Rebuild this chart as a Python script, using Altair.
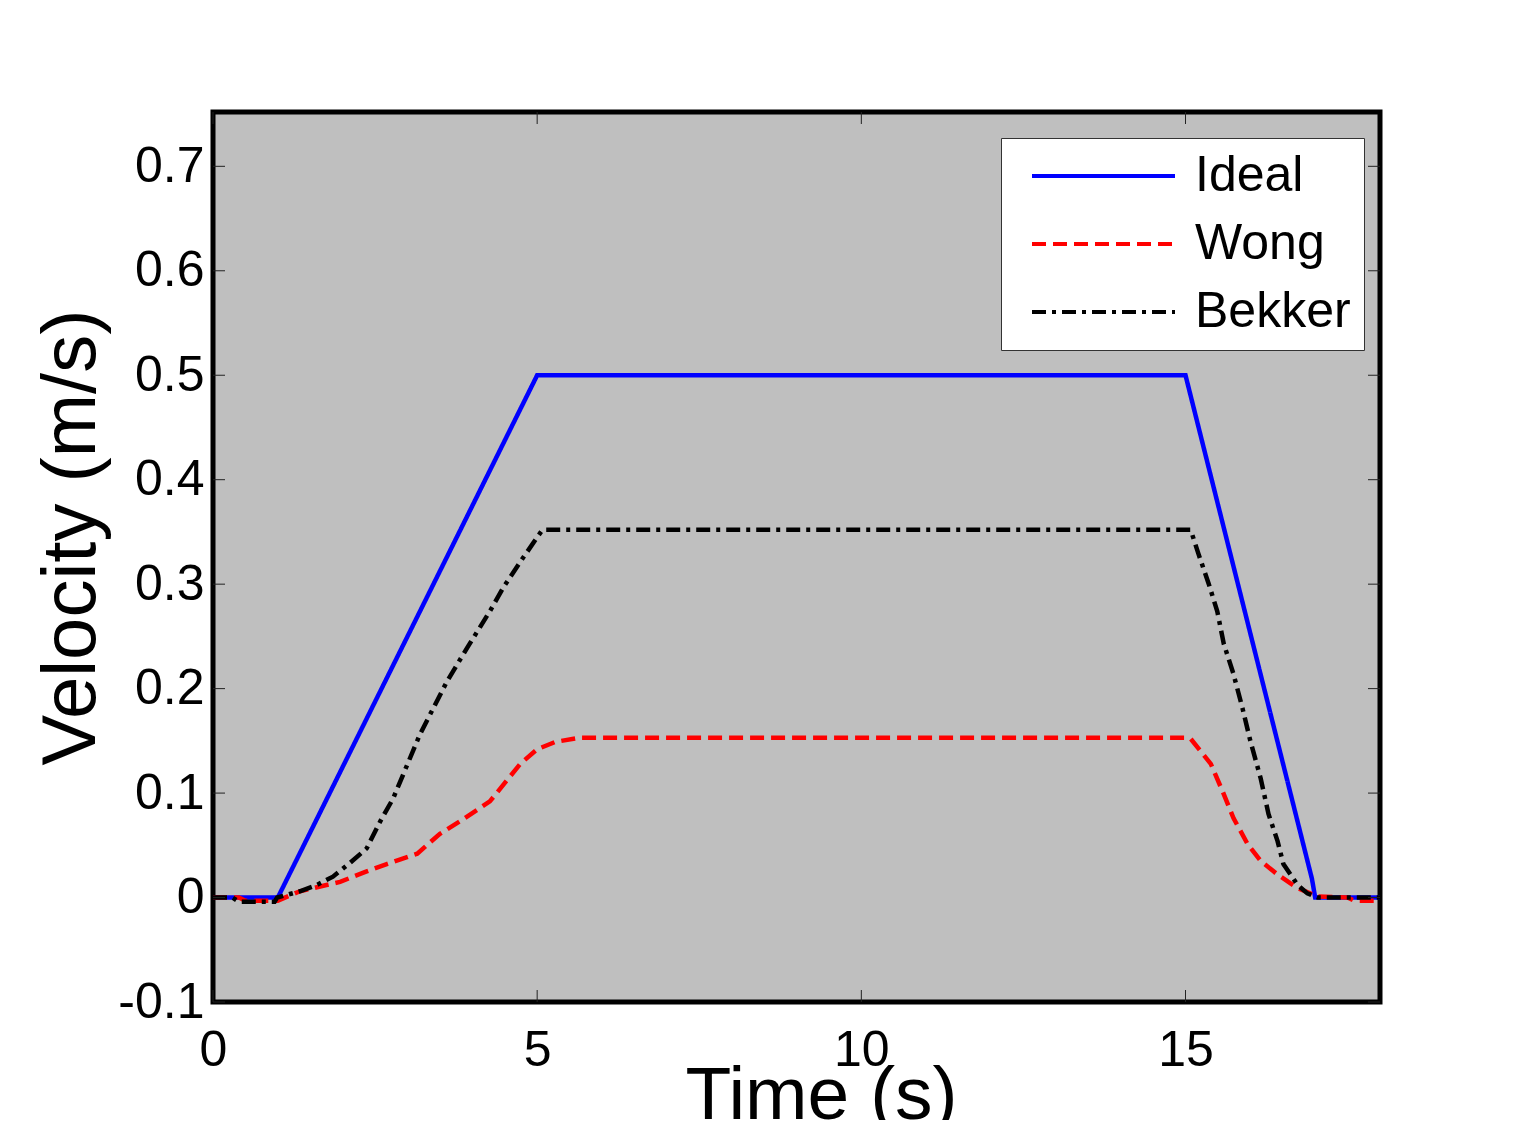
import altair as alt
import pandas as pd

# ---------------- data ----------------
series_names = ["Ideal", "Wong", "Bekker"]
series_colors = ["#0000ff", "#ff0000", "#000000"]

ideal_t = [0.0, 1.0, 5.0, 15.0, 16.95, 17.0, 18.0]
ideal_v = [0.0, 0.0, 0.5, 0.5, 0.018, 0.0, 0.0]

wong_t = [0.0, 0.4, 0.5, 1.0, 1.34, 1.96, 2.37, 2.68, 3.15, 3.5, 3.81, 4.27,
          4.74, 5.0, 5.28, 5.66, 15.0, 15.08, 15.39, 15.57, 15.74, 15.96,
          16.16, 16.42, 16.73, 17.04, 17.5, 17.6, 18.0]
wong_v = [0.0, 0.0, -0.003, -0.003, 0.006, 0.015, 0.025, 0.032, 0.042, 0.061,
          0.073, 0.092, 0.128, 0.142, 0.149, 0.153, 0.153, 0.152, 0.128, 0.102,
          0.076, 0.051, 0.035, 0.022, 0.009, 0.001, 0.0, -0.003, -0.003]

bekker_t = [0.0, 0.3, 0.4, 0.95, 0.99, 1.34, 1.6, 1.85, 2.11, 2.37, 2.58, 2.78,
            3.19, 3.61, 3.92, 4.27, 4.48, 4.78, 5.08, 15.08, 15.2, 15.36,
            15.49, 15.59, 15.74, 15.88, 16.0, 16.16, 16.28, 16.42, 16.51,
            16.73, 16.88, 17.04, 18.0]
bekker_v = [0.0, 0.0, -0.004, -0.004, 0.0, 0.006, 0.012, 0.02, 0.033, 0.047,
            0.073, 0.095, 0.156, 0.207, 0.239, 0.274, 0.297, 0.325, 0.352,
            0.352, 0.329, 0.3, 0.274, 0.243, 0.214, 0.181, 0.15, 0.114, 0.08,
            0.054, 0.032, 0.012, 0.004, 0.0, 0.0]

x_tick_values = [0, 5, 10, 15]
y_tick_values = [-0.1, 0.0, 0.1, 0.2, 0.3, 0.4, 0.5, 0.6, 0.7]

x_domain = [0, 18]
y_domain = [-0.1, 0.752]

# ---------------- tables ----------------
rows = []
for name, ts, vs in zip(series_names, [ideal_t, wong_t, bekker_t],
                        [ideal_v, wong_v, bekker_v]):
    for t, v in zip(ts, vs):
        rows.append({"series": name, "t": t, "v": v})
df = pd.DataFrame(rows)
xt = pd.DataFrame({"t": x_tick_values})
yt = pd.DataFrame({"v": y_tick_values})

W, H = 1167, 890
FONT = "Liberation Sans"
TICK_LEN = 12

x_scale = alt.Scale(domain=x_domain, nice=False, zero=False)
y_scale = alt.Scale(domain=y_domain, nice=False, zero=False)

y_label_expr = ("datum.value == 0 ? '0' : (datum.value < 0 ? '-' + format(-datum.value, '.1f')"
                " : format(datum.value, '.1f'))")

x_axis = alt.Axis(values=x_tick_values, format="d", ticks=False, domain=False,
                  grid=False, labelFontSize=50, labelFont=FONT,
                  labelColor="black", labelPadding=23, labelFlush=False,
                  labelOverlap=False, title="Time (s)", titleFont=FONT,
                  titleFontSize=75, titleFontWeight="normal",
                  titleColor="black", titleX=608, titleY=116,
                  titleAlign="center", titleBaseline="alphabetic")
y_axis = alt.Axis(values=y_tick_values, labelExpr=y_label_expr, ticks=False,
                  domain=False, grid=False, labelFontSize=50, labelFont=FONT,
                  labelColor="black", labelPadding=9, labelFlush=False,
                  labelOverlap=False, title="Velocity (m/s)", titleFont=FONT,
                  titleFontSize=76, titleFontWeight="normal",
                  titleColor="black", titleX=-119, titleY=425,
                  titleAlign="center", titleBaseline="alphabetic",
                  titleAngle=270)

lines = alt.Chart(df).mark_line(strokeWidth=4.5, strokeCap="butt").encode(
    x=alt.X("t:Q", scale=x_scale, axis=x_axis),
    y=alt.Y("v:Q", scale=y_scale, axis=y_axis),
    color=alt.Color("series:N",
                    scale=alt.Scale(domain=series_names, range=series_colors),
                    legend=alt.Legend(title=None)),
    strokeDash=alt.StrokeDash("series:N",
                              scale=alt.Scale(domain=series_names,
                                              range=[[1, 0], [14, 7], [14, 6, 4, 6]]),
                              legend=alt.Legend(title=None)),
)

tick_color = "#222222"
bottom_ticks = alt.Chart(xt).mark_rule(color=tick_color, strokeWidth=1).encode(
    x=alt.X("t:Q", scale=x_scale, axis=x_axis),
    y=alt.value(H), y2=alt.value(H - TICK_LEN))
top_ticks = alt.Chart(xt).mark_rule(color=tick_color, strokeWidth=1).encode(
    x=alt.X("t:Q", scale=x_scale, axis=x_axis),
    y=alt.value(0), y2=alt.value(TICK_LEN))
left_ticks = alt.Chart(yt).mark_rule(color=tick_color, strokeWidth=1).encode(
    y=alt.Y("v:Q", scale=y_scale, axis=y_axis),
    x=alt.value(0), x2=alt.value(TICK_LEN))
right_ticks = alt.Chart(yt).mark_rule(color=tick_color, strokeWidth=1).encode(
    y=alt.Y("v:Q", scale=y_scale, axis=y_axis),
    x=alt.value(W), x2=alt.value(W - TICK_LEN))

chart = alt.layer(lines, bottom_ticks, top_ticks, left_ticks, right_ticks).properties(
    width=W, height=H,
    autosize=alt.AutoSizeParams(type="none"),
    padding={"left": 205, "top": 104, "right": 100, "bottom": 118},
    background="white",
).configure_view(
    fill="#bfbfbf", stroke="black", strokeWidth=5,
).configure_legend(
    orient="none", legendX=788, legendY=26,
    symbolType="stroke", symbolSize=143 * 143, symbolStrokeWidth=4,
    symbolOffset=16, labelOffset=18, labelFont=FONT, labelFontSize=50,
    labelColor="black", labelLimit=400, clipHeight=50, rowPadding=18,
    padding=13, fillColor="white", strokeColor="#333333",
)

chart.save("out.html", embed_options={"renderer": "svg", "actions": False})
